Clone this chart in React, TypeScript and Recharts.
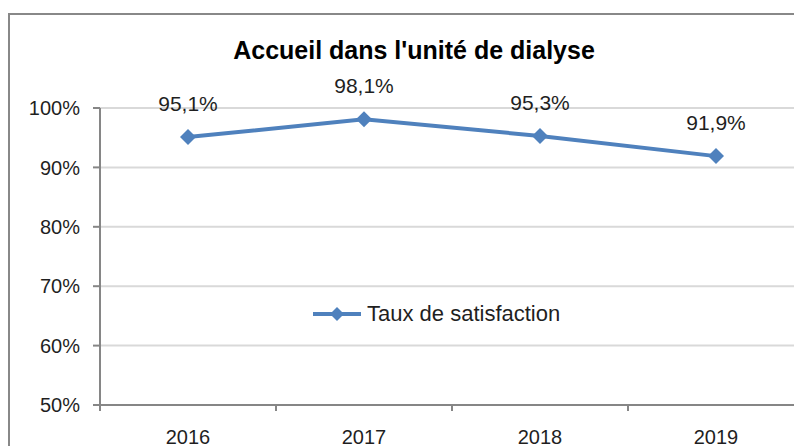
import React from 'react';
import { LineChart, Line, XAxis, YAxis, CartesianGrid, LabelList, Legend } from 'recharts';

const years = ['2016', '2017', '2018', '2019'];
const satisfaction = [95.1, 98.1, 95.3, 91.9];
const yTicks = [50, 60, 70, 80, 90, 100];
const seriesName = 'Taux de satisfaction';
const title = "Accueil dans l'unité de dialyse";

const data = years.map((year, i) => ({ year, taux: satisfaction[i] }));

const FONT = '"Liberation Sans", Arial, sans-serif';
const BLUE = '#4f81bd';
const AXIS = '#868686';
const TEXT = '#1f1f1f';

const diamondPath = (cx: number, cy: number, r: number) =>
  `M${cx},${cy - r} L${cx + r},${cy} L${cx},${cy + r} L${cx - r},${cy} Z`;

const Diamond = (props: any) => {
  const { cx, cy } = props;
  if (cx == null || cy == null) return null;
  return <path d={diamondPath(cx, cy, 8)} fill={BLUE} />;
};

// excel style: tick marks between categories, label in the middle
const XTick = (props: any) => {
  const { x, y, payload, width, visibleTicksCount, index } = props;
  const half = width / visibleTicksCount / 2;
  return (
    <g>
      <line x1={x - half} y1={y} x2={x - half} y2={y + 6} stroke={AXIS} strokeWidth={2} />
      {index === visibleTicksCount - 1 && (
        <line x1={x + half} y1={y} x2={x + half} y2={y + 6} stroke={AXIS} strokeWidth={2} />
      )}
      <text x={x} y={y + 39} textAnchor="middle" fill={TEXT} fontSize={20} fontFamily={FONT}>
        {payload.value}
      </text>
    </g>
  );
};

const LegendContent = (props: any) => {
  const item = props.payload?.[0];
  if (!item) return null;
  return (
    <div style={{ display: 'flex', alignItems: 'center', fontFamily: FONT, fontSize: 22, color: TEXT, whiteSpace: 'nowrap' }}>
      <svg width={50} height={20}>
        <line x1={0} y1={10} x2={48} y2={10} stroke={item.color} strokeWidth={4} />
        <path d={diamondPath(24, 10, 7)} fill={item.color} />
      </svg>
      <span style={{ marginLeft: 4 }}>{item.value}</span>
    </div>
  );
};

export default function App() {
  return (
    <div style={{ width: 794, height: 438, overflow: 'hidden', position: 'relative' }}>
      <div
        style={{
          position: 'absolute',
          left: 0,
          top: 5,
          width: 900,
          height: 520,
          border: '2px solid #888',
          boxSizing: 'border-box',
          background: '#fff',
        }}
      >
        <div
          style={{
            position: 'absolute',
            left: 0,
            top: 23,
            width: 808,
            textAlign: 'center',
            fontFamily: FONT,
            fontWeight: 'bold',
            fontSize: 25,
            lineHeight: 1,
            color: '#000',
            whiteSpace: 'nowrap',
          }}
        >
          {title}
        </div>
        <LineChart
          width={896}
          height={470}
          data={data}
          margin={{ top: 93, right: 102, bottom: 40, left: 0 }}
        >
          <CartesianGrid vertical={false} stroke="#d9d9d9" strokeWidth={2} />
          <XAxis
            dataKey="year"
            scale="band"
            height={40}
            axisLine={{ stroke: AXIS, strokeWidth: 2 }}
            tickLine={false}
            tickSize={0}
            tickMargin={0}
            tick={<XTick />}
            interval={0}
          />
          <YAxis
            width={90}
            domain={[50, 100]}
            ticks={yTicks}
            tickFormatter={(v: number) => `${v}%`}
            axisLine={{ stroke: AXIS, strokeWidth: 2 }}
            tickLine={{ stroke: AXIS, strokeWidth: 2 }}
            tickSize={7}
            tickMargin={13}
            tick={{ fill: TEXT, fontSize: 20, fontFamily: FONT }}
            interval={0}
          />
          <Legend
            layout="horizontal"
            align="center"
            verticalAlign="middle"
            content={<LegendContent />}
            wrapperStyle={{ left: 303, top: 286, width: 'auto' }}
          />
          <Line
            name={seriesName}
            dataKey="taux"
            stroke={BLUE}
            strokeWidth={4}
            dot={<Diamond />}
            activeDot={false}
            isAnimationActive={false}
          >
            <LabelList
              dataKey="taux"
              position="top"
              offset={26}
              formatter={(v: number) => `${v.toFixed(1).replace('.', ',')}%`}
              fill={TEXT}
              fontSize={21}
              fontFamily={FONT}
            />
          </Line>
        </LineChart>
      </div>
    </div>
  );
}
